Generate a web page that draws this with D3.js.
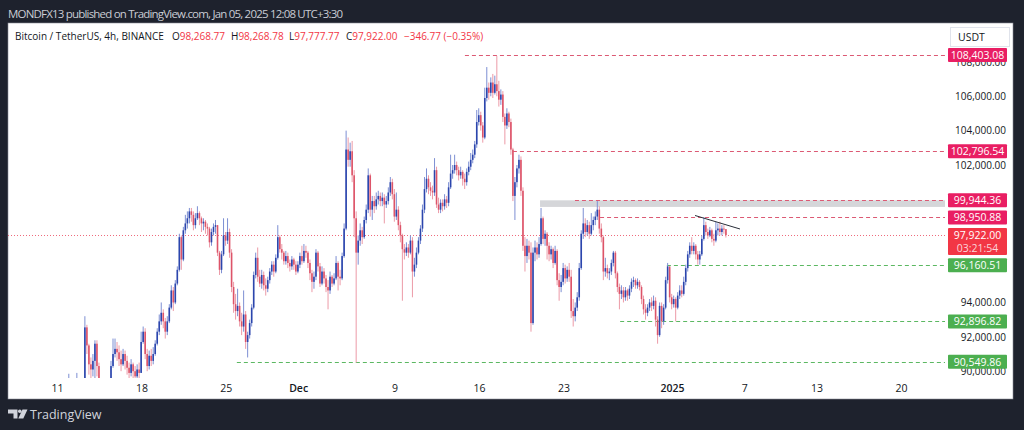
<!DOCTYPE html>
<html><head><meta charset="utf-8">
<script src="https://cdn.jsdelivr.net/npm/d3@7"></script>
<style>
html,body{margin:0;padding:0;background:#1e222d;}
svg{display:block;font-family:"Open Sans",sans-serif;}
</style></head><body>
<svg id="c" width="1024" height="430"></svg>
<script>
// ---------------- DATA ----------------
const firstOpen = 88000;
const closes = [
88500,88000,87500,88200,88800,88000,87800,88300,92550,91500,
90400,90100,90600,91600,90300,89500,88500,87800,87500,88000,
88800,90300,91000,91300,91100,90700,90400,91000,90600,90200,
89900,90400,90000,89700,90100,89900,91700,92300,91000,90300,
90900,90600,91000,91600,92300,92900,93400,92900,92300,92900,
93700,94700,94000,95100,95900,97800,96500,98200,98600,98900,
99300,99100,98500,98900,99200,98900,98600,98700,98400,98300,
97500,98100,98400,98500,96900,95900,96800,97900,97600,98100,
96900,94900,93900,93500,93800,92900,92600,93300,91700,92100,
92800,93700,95600,96600,95500,95100,95600,95000,94800,95300,
95800,96200,95800,96600,97800,97100,96900,96400,96700,96300,
96100,96500,96200,95800,96200,96700,96400,97000,96900,96300,
95700,95200,95500,96900,96100,95100,95800,95400,94900,94700,
95500,95100,95400,96300,95500,95400,96700,98300,102900,102300,
102800,101400,98900,96900,97600,98200,97800,98800,99400,101400,
99400,99900,99600,100000,100200,99900,100100,99700,99900,100400,
101000,100300,99000,99400,98500,97900,97100,96900,97200,96900,
97600,95800,96200,96900,97600,98300,99400,100600,101200,100700,
100500,100400,101700,99700,99400,99800,99600,100000,99800,100700,
101500,101700,102000,101700,101400,101600,101200,101000,101600,101900,
102300,102600,103200,104500,104900,104300,103600,105900,106500,106200,
106800,106200,106700,106300,105800,106100,104800,104300,105000,104500,
102900,100200,101000,101800,102300,100500,97300,96700,97300,96900,
92800,96900,97200,96800,97400,98900,97700,98000,97300,96800,
97100,96300,97000,95300,94900,95200,96000,95400,95900,95500,
93500,93200,93700,94300,96000,98000,98600,98100,98500,98000,
98500,98800,99000,99400,98300,97800,95800,96000,95700,95800,
96300,96900,95700,94900,94500,94700,94300,94700,94400,94800,
95200,95300,95000,95200,94900,94200,93600,93400,93700,94000,
93800,94100,93000,92100,93800,92900,93700,95300,96100,94300,
93900,94200,93700,94400,94700,94500,95200,96000,96800,97300,
97000,97300,96800,96500,96800,97700,98500,98100,97900,98200,
97700,97600,98200,98300,98100,98300,98268.77,97922.00];
const highs = [
89850,88900,88500,89000,89900,89000,88500,89100,93200,92700,
91600,90800,91000,91800,91800,90500,89500,88700,88200,88600,
89300,90600,91900,91900,91700,91500,91200,91300,91200,90900,
90500,90700,90500,90300,90400,90500,92300,92600,92500,91300,
91200,91300,91400,91800,92500,93300,94000,93600,93100,93200,
93900,95000,94900,95300,96100,98000,97900,98400,99100,99300,
99500,99500,99300,99200,99600,99300,99000,98900,98800,98600,
98400,98300,98600,98800,98500,97000,97000,98900,98100,98900,
98300,97100,95200,94500,94800,94000,93400,94700,93500,92300,
93000,93900,95800,96900,97200,95900,95900,95800,95400,95500,
96000,96400,96400,96800,98500,97900,97400,97000,97000,96900,
96500,96700,96600,96400,96400,96900,97300,97400,97300,97000,
96500,95900,95800,97100,97000,96300,96100,96000,95600,95300,
95800,95600,95700,96700,96400,95900,96900,98600,104000,103600,
103300,103400,101700,99300,97900,98600,98400,99000,99700,101800,
101500,100200,100200,100400,100500,100400,100400,100300,100200,100700,
101300,101200,100600,100400,99600,98700,98000,97400,97500,97400,
97900,97800,96600,97200,97800,98500,99700,101300,101800,101400,
101000,100800,102400,101900,100100,100000,100000,100300,100200,101000,
102600,102000,102600,102200,101900,101900,101700,101500,101800,102200,
102700,102900,103400,105200,105300,105100,104500,106500,107700,106800,
107100,107300,107200,108350,106900,106400,106300,105000,105300,105100,
104700,103000,101300,102000,102600,102500,100700,97800,97700,97600,
97500,97200,97600,97500,97800,99500,99000,98200,98100,97500,
97300,97200,97300,97100,95700,95600,96300,96200,96100,96300,
95900,94200,94000,94600,96300,98200,99500,98900,98800,98700,
99200,99000,99300,99900,99600,98600,97900,96600,96200,96000,
96500,97000,97000,95800,95100,95000,94900,94900,94800,95000,
95400,95500,95400,95400,95300,95000,94400,93900,93900,94200,
94300,94400,94300,93200,94000,94000,93900,95500,96300,96000,
94500,94400,94300,94600,95000,95000,95500,96200,97000,97500,
97800,97500,97400,97000,97000,97900,98950,98700,98300,98400,
98300,98000,98700,98600,98700,98500,98500,98268.78];
const lows = [
87800,87000,86800,87200,88000,87500,86500,87500,88000,91000,
89800,89500,89700,89600,89700,88800,87800,87100,86700,87000,
87800,88600,90200,90800,90600,90300,90000,90300,90100,89800,
89400,89700,89300,89200,89500,89400,89900,91600,90700,90000,
90100,90300,90400,90900,91500,92100,92700,92500,91900,92100,
92800,93600,93500,93900,95000,95800,95900,96400,98000,98300,
98600,98700,98200,98300,98800,98500,98100,98200,98000,97900,
97200,97300,97900,98000,96700,95600,95700,96700,97300,97400,
96600,94600,93400,93000,93200,92600,92100,92300,91300,90800,
91900,92600,93600,95400,95200,94900,94800,94700,94400,94600,
95100,95600,95500,95700,96500,96900,96500,96200,96200,96000,
95800,95900,95900,95600,95700,96000,96200,96300,96600,96000,
95300,94600,94800,95300,95800,94900,95000,95100,94600,93600,
94500,94900,95000,95300,94700,95000,95300,96600,98200,101900,
101900,101000,97800,90500,96200,97300,97400,97700,98600,99200,
99000,98800,99200,99400,99700,99600,99600,98600,99500,99700,
100200,100000,98700,98800,98200,97500,94100,96500,96700,96600,
96800,94300,95500,96000,96800,97400,98100,99200,100400,100300,
100200,100000,100200,99500,99200,99200,99300,99400,99500,99600,
100600,101200,101500,101400,101100,101200,100800,100600,100800,101400,
101700,102100,102400,103000,104300,104000,103300,103500,105700,105800,
106000,105900,106100,106000,105400,105500,104500,103200,104100,104200,
102600,99900,98800,100700,101500,100200,97000,95800,96300,96500,
92300,92700,96400,96500,96600,97300,97400,97300,96500,96400,
96500,96000,96200,95000,94100,94600,95000,95100,95200,95200,
93100,92600,92900,93500,94100,95900,97700,97800,97900,97700,
97900,98200,98500,98800,98000,97500,95300,95500,95400,95300,
95600,96100,95400,94600,93600,94200,94000,94100,94100,94200,
94600,94900,94800,94800,94700,93900,93300,93000,93200,93500,
93500,93600,92600,91600,92000,92500,92700,93600,95100,94000,
93600,93700,92900,93600,94200,94300,94400,95000,95800,96600,
96800,96800,96500,96200,96200,96700,97600,97900,97700,97800,
97500,97300,97500,97900,97900,97900,98000,97777.77];
const candleStart = Date.UTC(2024, 10, 11, 23, 30); // axis time of first 4h candle
const candleStepMs = 4 * 3600 * 1000;

const timeTickDates = ["2024-11-11","2024-11-18","2024-11-25","2024-12-01","2024-12-09","2024-12-16","2024-12-23","2025-01-01","2025-01-07","2025-01-13","2025-01-20"];
const timeTickLabels = ["11","18","25","Dec","9","16","23","2025","7","13","20"];
const timeTickBold = ["Dec","2025"];
const priceTicks = [90000,92000,94000,96000,98000,100000,102000,104000,106000,108000];

const levelPrices = [108403.08, 102796.54, 99944.36, 98950.88, 96160.51, 92896.82, 90549.86];
const levelKinds  = ["res","res","res","res","sup","sup","sup"];
const levelStarts = ["2024-12-14T20:00","2024-12-18T19:30","2024-12-23T23:00","2024-12-26T01:00","2024-12-31T14:00","2024-12-27T17:00","2024-11-25T22:00"];
const zonePrices = [99944.36, 99560];
const zoneStart = "2024-12-21T01:30";
const trendTimes = ["2025-01-02T22:00","2025-01-06T15:30"];
const trendPrices = [99062, 98276];
const lastPrice = 97922.00;
const lastCountdown = "03:21:54";

const headerText = "MONDFX13 published on TradingView.com, Jan 05, 2025 12:08 UTC+3:30";
const symbolText = "Bitcoin / TetherUS, 4h, BINANCE";
const ohlcKeys = ["O","H","L","C"];
const ohlcVals = ["98,268.77","98,268.78","97,777.77","97,922.00"];
const changeText = "\u2212346.77 (\u22120.35%)";

// ---------------- DRAW ----------------
const svg = d3.select("#c");
const parseT = d3.utcParse("%Y-%m-%dT%H:%M");
const parseD = d3.utcParse("%Y-%m-%d");

const x = d3.scaleUtc()
  .domain([parseD("2024-11-11"), parseD("2025-01-20")])
  .range([57, 901]);
const y = d3.scaleLinear().domain([90000, 108000]).range([371.2, 61.9]);

const plotL = 8, plotR = 945, plotT = 23, plotB = 378;

svg.append("rect").attr("width",1024).attr("height",430).attr("fill","#1e222d");
svg.append("rect").attr("x",8).attr("y",23).attr("width",1005).attr("height",376)
  .attr("fill","#ffffff").attr("stroke","#8a8d96").attr("stroke-width",0.6);

// header
svg.append("text").attr("x",8).attr("y",18).attr("fill","#c9ccd4")
  .style("font-size","11.5px").attr("textLength",335).attr("lengthAdjust","spacing")
  .text(headerText);

// clip
svg.append("defs").append("clipPath").attr("id","pc").append("rect")
  .attr("x",plotL).attr("y",plotT).attr("width",plotR-plotL).attr("height",plotB-plotT);
const g = svg.append("g").attr("clip-path","url(#pc)");

// zone
g.append("rect")
  .attr("x", x(parseT(zoneStart))).attr("width", plotR - x(parseT(zoneStart)))
  .attr("y", y(zonePrices[0])).attr("height", y(zonePrices[1]) - y(zonePrices[0]))
  .attr("fill","#d5d6d9");

// current price dotted line
g.append("line").attr("x1",plotL).attr("x2",plotR)
  .attr("y1",Math.round(y(lastPrice))+0.5).attr("y2",Math.round(y(lastPrice))+0.5)
  .attr("stroke","#ef6a7c").attr("stroke-width",1).attr("stroke-dasharray","1,2");

// level lines
const levelColor = k => k==="res" ? "#dc5a74" : "#5cb862";
levelPrices.forEach((p,i)=>{
  g.append("line").attr("x1",x(parseT(levelStarts[i]))).attr("x2",plotR)
    .attr("y1",Math.round(y(p))+0.5).attr("y2",Math.round(y(p))+0.5)
    .attr("stroke",levelColor(levelKinds[i])).attr("stroke-width",1)
    .attr("stroke-dasharray","4,3");
});

// candles
const candles = closes.map((c,i)=>({
  t: new Date(candleStart + i*candleStepMs),
  o: i ? closes[i-1] : firstOpen, h: highs[i], l: lows[i], c
}));
const upCol = "#2c46ad", dnCol = "#dd5469";
const upWick = "#7d8fd3", dnWick = "#ec9aa7";
g.selectAll("line.wick").data(candles).join("line").attr("class","wick")
  .attr("x1",d=>x(d.t)).attr("x2",d=>x(d.t))
  .attr("y1",d=>y(d.h)).attr("y2",d=>y(d.l))
  .attr("stroke",d=>d.c>=d.o?upWick:dnWick).attr("stroke-width",1);
g.selectAll("rect.body").data(candles).join("rect").attr("class","body")
  .attr("x",d=>x(d.t)-0.8).attr("width",1.6)
  .attr("y",d=>y(Math.max(d.o,d.c)))
  .attr("height",d=>Math.max(1, Math.abs(y(d.o)-y(d.c))))
  .attr("fill",d=>d.c>=d.o?upCol:dnCol);

// trend line
g.append("line")
  .attr("x1",x(parseT(trendTimes[0]))).attr("y1",y(trendPrices[0]))
  .attr("x2",x(parseT(trendTimes[1]))).attr("y2",y(trendPrices[1]))
  .attr("stroke","#2a2e39").attr("stroke-width",1);

// time axis
const tAxis = d3.axisBottom(x)
  .tickValues(timeTickDates.map(parseD))
  .tickFormat((d,i)=>timeTickLabels[i])
  .tickSize(0).tickPadding(4);
const tg = svg.append("g").attr("transform","translate(0,381)").call(tAxis);
tg.select(".domain").remove();
tg.selectAll("text").attr("fill","#131722").style("font-size","10.5px")
  .style("font-family","'Open Sans',sans-serif")
  .style("font-weight",(d,i)=>timeTickBold.includes(timeTickLabels[i])?"600":"400");

// price axis (ticks colliding with a price label are hidden, as TradingView does)
const labelBands = levelPrices.map(p=>[y(p)-7, y(p)+7]).concat([[y(lastPrice)-7, y(lastPrice)+20]]);
const visibleTicks = priceTicks.filter(t=>{
  const ty = y(t);
  return !labelBands.some(([a,b])=> ty > a-4 && ty < b-1);
});
const pAxis = d3.axisRight(y).tickValues(visibleTicks)
  .tickFormat(d3.format(",.2f")).tickSize(0).tickPadding(0);
const pg = svg.append("g").attr("transform","translate(1006,0)").call(pAxis);
pg.select(".domain").remove();
pg.selectAll("text").attr("x",0).attr("text-anchor","end").attr("fill","#131722")
  .style("font-size","10px").style("font-family","'Open Sans',sans-serif");

// USDT box
svg.append("rect").attr("x",950.5).attr("y",27.5).attr("width",59).attr("height",19)
  .attr("fill","#fff").attr("stroke","#e0e3eb");
svg.append("text").attr("x",958).attr("y",41).attr("fill","#131722")
  .style("font-size","10.5px").text("USDT");

// level labels
const labelColor = k => k==="res" ? "#e91e63" : "#4caf50";
const fmt = d3.format(",.2f");
levelPrices.forEach((p,i)=>{
  const cy = y(p);
  svg.append("rect").attr("x",948).attr("y",cy-7).attr("width",59).attr("height",14)
    .attr("rx",1).attr("fill",labelColor(levelKinds[i]));
  svg.append("text").attr("x",977.5).attr("y",cy+3.8).attr("text-anchor","middle")
    .attr("fill","#fff").style("font-size","10.5px").text(fmt(p));
});
// last price label
{
  const cy = y(lastPrice);
  svg.append("rect").attr("x",948).attr("y",cy-7).attr("width",59).attr("height",27)
    .attr("rx",1).attr("fill","#f23645");
  svg.append("text").attr("x",977.5).attr("y",cy+3.8).attr("text-anchor","middle")
    .attr("fill","#fff").style("font-size","10.5px").text(fmt(lastPrice));
  svg.append("text").attr("x",977.5).attr("y",cy+16.5).attr("text-anchor","middle")
    .attr("fill","#fbd5d9").style("font-size","10.5px").text(lastCountdown);
}

// legend
const lg = svg.append("text").attr("y",40).style("font-size","10px");
lg.append("tspan").attr("x",15).attr("fill","#131722").text(symbolText);
const ohlcX = [172,231,289,346];
ohlcKeys.forEach((k,i)=>{
  lg.append("tspan").attr("x",ohlcX[i]).attr("fill","#131722").text(k);
  lg.append("tspan").attr("fill","#f23645").text(ohlcVals[i]);
});
lg.append("tspan").attr("x",404).attr("fill","#f23645").text(changeText);

// footer logo
const lgo = svg.append("g").attr("fill","#d1d4dc");
lgo.append("path").attr("d","M8,409.5 h9.5 v9 h-4 v-5 h-5.5 z");
lgo.append("circle").attr("cx",19.8).attr("cy",411.3).attr("r",1.8);
lgo.append("path").attr("d","M22.5,409.5 h5 l-4.2,9 h-5 z");
svg.append("text").attr("x",30).attr("y",419).attr("fill","#d1d4dc")
  .style("font-size","12.5px").text("TradingView");
</script>
</body></html>
